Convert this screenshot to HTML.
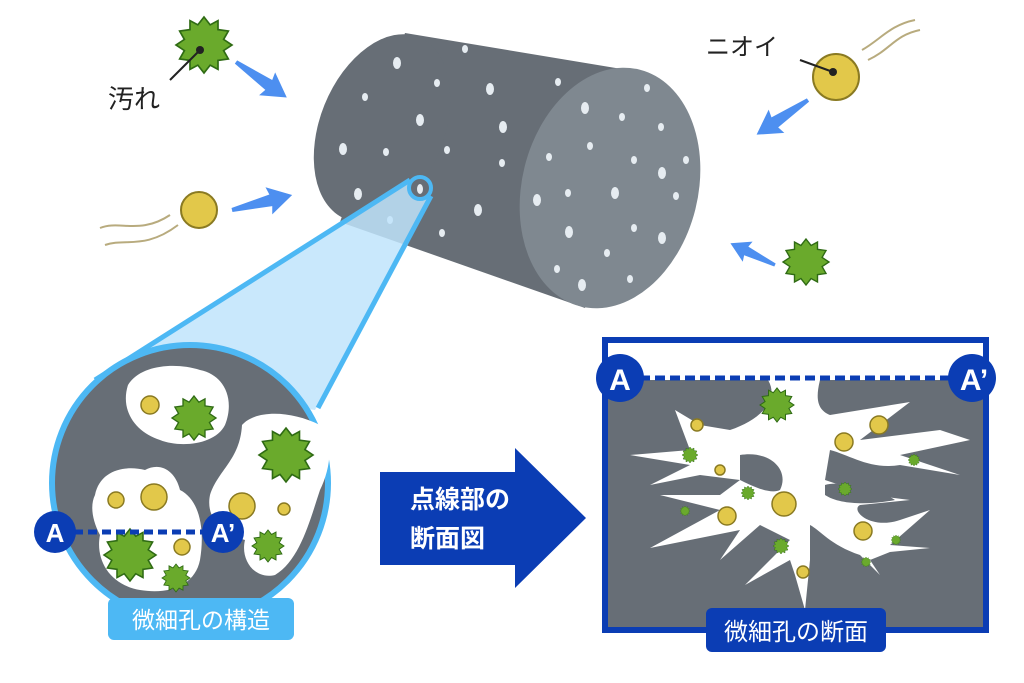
<!DOCTYPE html>
<html><head><meta charset="utf-8"><style>
html,body{margin:0;padding:0;background:#fff;}
svg{display:block}
text{font-family:"Liberation Sans","Noto Sans CJK JP",sans-serif;}
</style></head><body>
<svg width="1024" height="683" viewBox="0 0 1024 683" xmlns="http://www.w3.org/2000/svg">
<defs>
<g id="star"><polygon points="0,-1 0.22,-0.72 0.5,-0.87 0.5,-0.55 0.87,-0.5 0.7,-0.2 1,0 0.7,0.2 0.87,0.5 0.5,0.55 0.5,0.87 0.22,0.72 0,1 -0.22,0.72 -0.5,0.87 -0.5,0.55 -0.87,0.5 -0.7,0.2 -1,0 -0.7,-0.2 -0.87,-0.5 -0.5,-0.55 -0.5,-0.87 -0.22,-0.72" fill="#6aaa2c" stroke="#2f6b14" stroke-width="0.06"/></g>
<g id="arr"><polygon points="0,-2 40,-6 38,-14 62,0 38,14 40,6 0,2" fill="#4d8ff0"/></g>
</defs>

<!-- cylinder -->
<path d="M405,33 L640,72 L585,308 L340,222 Z" fill="#676e76"/>
<ellipse cx="382" cy="128" rx="62" ry="98" transform="rotate(22 382 128)" fill="#676e76"/>
<ellipse cx="610" cy="188" rx="88" ry="122" transform="rotate(14 610 188)" fill="#7f8890"/>
<g fill="#e6ecf1">
<ellipse cx="397" cy="63" rx="4" ry="6"/><ellipse cx="465" cy="49" rx="3" ry="4"/><ellipse cx="437" cy="83" rx="3" ry="4"/><ellipse cx="490" cy="89" rx="4" ry="6"/><ellipse cx="365" cy="97" rx="3" ry="4"/><ellipse cx="420" cy="120" rx="4" ry="6"/><ellipse cx="503" cy="127" rx="4" ry="6"/><ellipse cx="343" cy="149" rx="4" ry="6"/><ellipse cx="386" cy="152" rx="3" ry="4"/><ellipse cx="447" cy="150" rx="3" ry="4"/><ellipse cx="502" cy="163" rx="3" ry="4"/><ellipse cx="358" cy="194" rx="4" ry="6"/><ellipse cx="390" cy="220" rx="3" ry="4"/><ellipse cx="442" cy="233" rx="3" ry="4"/><ellipse cx="478" cy="210" rx="4" ry="6"/><ellipse cx="558" cy="82" rx="3" ry="4"/>
<ellipse cx="647" cy="88" rx="3" ry="4"/><ellipse cx="585" cy="108" rx="4" ry="6"/><ellipse cx="622" cy="117" rx="3" ry="4"/><ellipse cx="661" cy="127" rx="3" ry="4"/><ellipse cx="549" cy="157" rx="3" ry="4"/><ellipse cx="590" cy="146" rx="3" ry="4"/><ellipse cx="634" cy="160" rx="3" ry="4"/><ellipse cx="662" cy="173" rx="4" ry="6"/><ellipse cx="686" cy="160" rx="3" ry="4"/><ellipse cx="537" cy="200" rx="4" ry="6"/><ellipse cx="568" cy="193" rx="3" ry="4"/><ellipse cx="615" cy="193" rx="4" ry="6"/><ellipse cx="676" cy="196" rx="3" ry="4"/><ellipse cx="569" cy="232" rx="4" ry="6"/><ellipse cx="634" cy="228" rx="3" ry="4"/><ellipse cx="662" cy="238" rx="4" ry="6"/><ellipse cx="607" cy="253" rx="3" ry="4"/><ellipse cx="557" cy="269" rx="3" ry="4"/><ellipse cx="582" cy="285" rx="4" ry="6"/><ellipse cx="630" cy="279" rx="3" ry="4"/>
</g>

<!-- cone -->
<polygon points="410,180 95,378 315,410 431,196" fill="#bfe4fb" fill-opacity="0.85"/>
<line x1="410" y1="180" x2="95" y2="380" stroke="#4db8f4" stroke-width="5"/>
<line x1="431" y1="196" x2="318" y2="408" stroke="#4db8f4" stroke-width="5"/>
<circle cx="420" cy="188" r="11" fill="#676e76" stroke="#4db8f4" stroke-width="4"/>
<ellipse cx="420" cy="189" rx="3" ry="5" fill="#e6ecf1"/>

<!-- magnified circle -->
<circle cx="190" cy="483" r="138" fill="#676e76" stroke="#4db8f4" stroke-width="6"/>
<g fill="#fff">
<path d="M128,385 C140,365 175,362 200,370 C225,375 235,400 225,425 C215,445 180,448 160,440 C135,432 120,410 128,385Z"/>
<path d="M242,425 C255,410 290,410 320,425 C335,440 330,470 320,490 C310,520 300,560 275,575 C255,580 240,560 245,540 C225,535 205,520 210,495 C218,470 240,460 242,425Z"/>
<path d="M95,495 C100,470 125,465 145,470 C160,462 175,470 180,490 C200,500 205,530 200,560 C195,585 170,595 140,590 C110,585 95,560 100,535 C92,520 90,505 95,495Z"/>
</g>
<g fill="#e2c84a" stroke="#8a7a22" stroke-width="1.5">
<circle cx="150" cy="405" r="9"/><circle cx="154" cy="497" r="13"/><circle cx="116" cy="500" r="8"/><circle cx="242" cy="506" r="13"/><circle cx="284" cy="509" r="6"/><circle cx="182" cy="547" r="8"/>
</g>
<use href="#star" transform="translate(194,418) scale(22)"/>
<use href="#star" transform="translate(286,455) scale(27)"/>
<use href="#star" transform="translate(130,555) scale(26)"/>
<use href="#star" transform="translate(268,546) scale(16)"/>
<use href="#star" transform="translate(176,578) scale(14)"/>
<line x1="60" y1="532" x2="215" y2="532" stroke="#0b3db4" stroke-width="5" stroke-dasharray="9,5"/>
<circle cx="55" cy="532" r="21" fill="#0b3db4"/>
<text x="55" y="542" font-size="26" font-weight="bold" fill="#fff" text-anchor="middle">A</text>
<circle cx="223" cy="532" r="21" fill="#0b3db4"/>
<text x="223" y="542" font-size="26" font-weight="bold" fill="#fff" text-anchor="middle">A’</text>
<rect x="108" y="598" width="186" height="42" rx="6" fill="#4db8f4"/>
<text x="201" y="628" font-size="23" fill="#fff" text-anchor="middle">微細孔の構造</text>

<!-- big arrow -->
<polygon points="380,472 515,472 515,448 586,518 515,588 515,565 380,565" fill="#0b3db4"/>
<text x="410" y="508" font-size="25" font-weight="bold" fill="#fff">点線部の</text>
<text x="410" y="547" font-size="25" font-weight="bold" fill="#fff">断面図</text>

<!-- cross-section -->
<rect x="605" y="340" width="381" height="290" fill="#fff" stroke="#0b3db4" stroke-width="6"/>
<rect x="608" y="380" width="375" height="247" fill="#676e76"/>
<path fill="#fff" d="M768,380 L820,380 C815,400 818,410 830,415 L910,402 L860,440 L940,430 L970,440 L900,455 L960,475 L900,465 C870,470 850,455 830,450 L825,480 L870,495 L910,500 L860,505 C850,510 870,530 900,520 L930,510 L890,545 L930,548 L890,552 L870,560 L880,575 L860,555 C830,545 820,530 810,525 L810,560 L805,610 L795,575 L790,560 L745,585 L790,540 L760,525 L720,560 L740,530 L650,548 L720,510 L700,505 L660,495 L720,495 L740,480 L700,475 L650,485 L690,465 L630,455 L690,450 L675,410 L700,425 L730,430 C760,420 780,400 768,380Z"/>
<path fill="#676e76" d="M740,455 C770,450 790,470 780,490 C770,495 750,485 740,480Z M825,485 C840,480 880,490 895,500 C870,505 840,505 825,495Z"/>
<g fill="#e2c84a" stroke="#8a7a22" stroke-width="1.5">
<circle cx="697" cy="425" r="6"/><circle cx="720" cy="470" r="5"/><circle cx="784" cy="504" r="12"/><circle cx="727" cy="516" r="9"/><circle cx="844" cy="442" r="9"/><circle cx="879" cy="425" r="9"/><circle cx="863" cy="531" r="9"/><circle cx="803" cy="572" r="6"/>
</g>
<use href="#star" transform="translate(777,405) scale(17)"/>
<use href="#star" transform="translate(690,455) scale(8)"/>
<use href="#star" transform="translate(748,493) scale(7)"/>
<use href="#star" transform="translate(685,511) scale(5)"/>
<use href="#star" transform="translate(781,546) scale(8)"/>
<use href="#star" transform="translate(845,489) scale(7)"/>
<use href="#star" transform="translate(914,460) scale(6)"/>
<use href="#star" transform="translate(896,540) scale(5)"/>
<use href="#star" transform="translate(866,562) scale(5)"/>
<line x1="625" y1="378" x2="965" y2="378" stroke="#0b3db4" stroke-width="5" stroke-dasharray="10,5"/>
<circle cx="620" cy="378" r="24" fill="#0b3db4"/>
<text x="620" y="390" font-size="30" font-weight="bold" fill="#fff" text-anchor="middle">A</text>
<circle cx="972" cy="378" r="24" fill="#0b3db4"/>
<text x="974" y="390" font-size="30" font-weight="bold" fill="#fff" text-anchor="middle">A’</text>
<rect x="706" y="608" width="180" height="44" rx="6" fill="#0b3db4"/>
<text x="796" y="640" font-size="24" fill="#fff" text-anchor="middle">微細孔の断面</text>

<!-- top-left items -->
<use href="#star" transform="translate(204,45) scale(28)"/>
<circle cx="200" cy="50" r="4" fill="#222"/>
<line x1="200" y1="50" x2="170" y2="80" stroke="#222" stroke-width="2"/>
<text x="108" y="108" font-size="26" fill="#222">汚れ</text>
<use href="#arr" transform="translate(236,62) rotate(35)"/>
<path d="M100,228 C120,220 140,235 170,215 M105,245 C125,238 145,250 178,225" stroke="#b8ab7e" stroke-width="2" fill="none"/>
<circle cx="199" cy="210" r="18" fill="#e2c84a" stroke="#8a7a22" stroke-width="2"/>
<use href="#arr" transform="translate(232,210) rotate(-14)"/>

<!-- top-right items -->
<text x="706" y="55" font-size="24" fill="#222">ニオイ</text>
<path d="M862,50 C880,40 890,25 915,20 M868,60 C890,50 895,35 920,30" stroke="#b8ab7e" stroke-width="2" fill="none"/>
<circle cx="836" cy="77" r="23" fill="#e2c84a" stroke="#8a7a22" stroke-width="2"/>
<circle cx="833" cy="72" r="4" fill="#222"/>
<line x1="833" y1="72" x2="800" y2="60" stroke="#222" stroke-width="2"/>
<use href="#arr" transform="translate(808,100) rotate(146)"/>
<use href="#star" transform="translate(806,262) scale(23)"/>
<use href="#arr" transform="translate(775,265) rotate(206) scale(0.8)"/>
</svg>
</body></html>
